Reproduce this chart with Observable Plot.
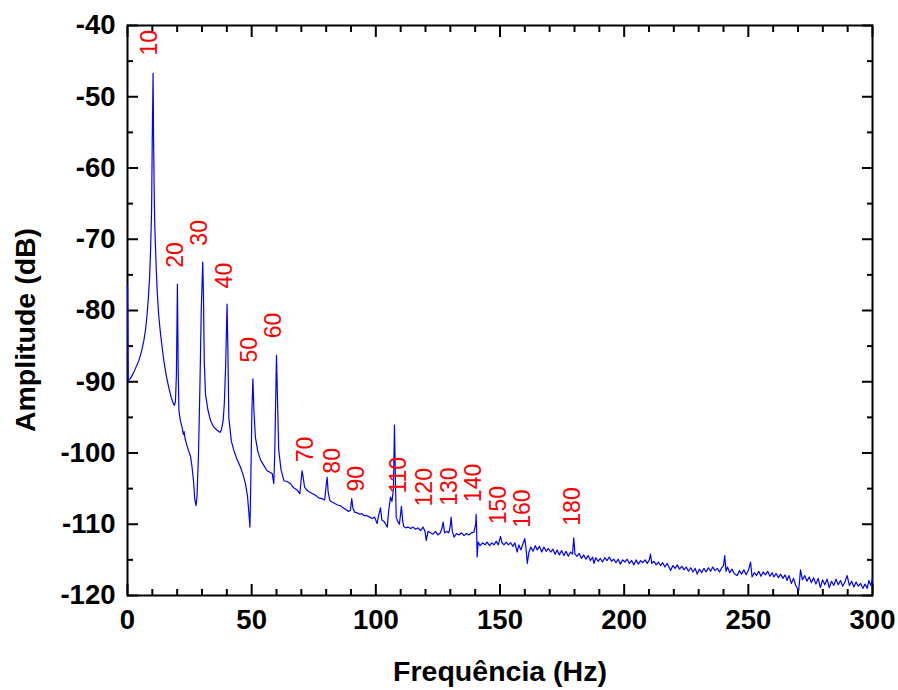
<!DOCTYPE html>
<html><head><meta charset="utf-8">
<script src="https://cdn.jsdelivr.net/npm/d3@7"></script>
<script src="https://cdn.jsdelivr.net/npm/@observablehq/plot@0.6"></script>
<style>body{margin:0;background:#fff}</style>
</head><body><div id="chart"></div>
<script>
const freq = [
0,0.3,1,1.9,3,4.6,5.6,6.6,7.3,7.9,
8.4,8.9,9.3,9.7,10,10.3,10.5,10.8,11,11.5,
12,12.6,13.3,14,14.6,15.6,16.6,17.6,18.5,18.9,
19.3,19.7,20.1,20.4,20.7,21.3,22,22.5,22.8,23.2,
24,24.7,25.4,26,26.6,27.1,27.6,28,28.6,29.2,
29.7,30.3,30.6,30.9,31.4,32.4,33.4,34.6,36.1,37.2,
37.8,38.5,39,39.5,39.9,40.1,40.4,40.8,41.8,42.8,
44,45.5,46.5,47.5,48.3,48.9,49.3,49.6,50.1,50.5,
50.9,51.5,52.5,53.6,55,56.2,57.4,58.3,58.9,59.3,
59.8,60,60.3,60.9,61.8,63,64.3,65.6,67,68.3,
69.4,70,70.3,70.7,71.3,72.5,74,75.5,77,78.3,
79.4,80,80.4,80.8,81.5,82.5,83.5,84.6,85.8,86.8,
87.8,89,89.8,90.3,90.8,91.5,92.5,93.5,94.4,95.3,
96.5,97.5,98.5,99.5,100.5,101.3,101.9,102.4,103.3,104,
104.6,105.2,105.9,106.5,107.1,107.5,107.9,108.2,108.8,109.5,
110.3,110.8,111.2,112,113,114,115,116,117,118,
119,119.8,120.3,121,122,123,124,125,126,126.6,
127.1,127.7,128.5,129.4,130,130.3,130.8,131.5,132.5,133.5,
134.5,135.5,136.5,137.5,138.5,139.5,140.2,140.4,140.6,140.8,
141.2,142,143,144,144.8,145.8,146.7,147.6,148.5,149.3,
150.2,150.8,151.6,152.5,153.4,154.3,155.2,156,156.9,157.6,
158.4,159.3,160,160.5,161,161.6,162.4,163.3,164.2,165,
165.9,166.8,167.7,168.6,169.5,170.4,171.3,172.2,173,173.9,
174.8,175.7,176.6,177.5,178.4,179.2,179.7,180.2,181,181.9,
182.8,183.7,184.6,185.5,186.4,187.3,187.8,188.6,189.5,190.4,
191.3,192.2,193.1,194,194.9,195.8,196.7,197.6,198.5,199.4,
200.3,201.2,202.1,203,203.9,204.8,205.7,206.6,207.5,208.4,
209.3,210.2,210.6,211.1,212,212.9,213.8,214.6,215.5,216.4,
217.3,218.2,218.7,219.6,220.5,221.4,222.3,223.2,224.1,225,
225.9,226.8,227.7,228.6,229.4,230.3,231.2,232.1,233,233.9,
234.8,235.7,236.6,237.5,238.4,239.3,240,240.5,241,241.6,
242.5,243.4,244.3,245.5,246.4,247.3,248.2,249.1,250,250.9,
251.5,252.4,253.3,254.2,255.1,256,256.9,257.8,258.7,259.6,
260.3,261.2,262.1,263,263.9,264.8,265.6,266.4,267.3,268.2,
269.1,270.3,271,271.8,272.7,273.6,274.5,275.4,276.3,277.2,
278.1,279,279.9,280.8,281.7,282.6,283.5,284.4,285.3,286.2,
287.1,288,288.9,289.8,290.7,291.6,292.5,293.4,294.3,295.2,
296.1,297,297.9,298.5,299.4,300
];
const amp = [
-76.5,-89.8,-89.6,-89.1,-88.3,-87,-85.8,-84.2,-82.6,-80.5,
-78.3,-75.3,-71.5,-66,-55,-46.7,-56,-64.5,-68.3,-73.5,
-77.6,-80.8,-83.3,-85.3,-87,-89.1,-90.8,-92.2,-93.1,-93.3,
-92.8,-89,-76.3,-88,-94,-95.5,-96.4,-97.4,-97,-98,
-99,-99.8,-100.5,-102,-104,-106.5,-107.4,-106,-100,-90,
-80,-73.2,-78,-87,-91.7,-94,-95.4,-96.3,-96.8,-97.1,
-96.8,-95.5,-93,-88,-82,-79.1,-85,-95,-98.3,-99.6,
-100.8,-102,-103,-104.3,-106,-108.5,-110.4,-105,-94,-89.6,
-94,-97.8,-99.8,-101,-101.8,-102.5,-102.7,-102.9,-104.3,-100,
-90,-86.3,-91,-99.6,-102.3,-103.9,-104,-104.3,-104.9,-105.2,
-105.7,-103.5,-102.5,-103.3,-104.8,-105.3,-105.6,-105.9,-106.3,-106.4,
-106.6,-104.5,-103.4,-105.5,-106.7,-106.9,-107.1,-107.3,-107.4,-107.7,
-107.9,-108.2,-108,-106.4,-107.8,-108.3,-108.4,-108.6,-108.5,-108.8,
-108.8,-109,-109.2,-109,-109.9,-108.5,-107.7,-109.4,-109.6,-110,
-110.4,-108,-106.2,-106.8,-105,-96.1,-104,-109,-109.6,-110,
-107.5,-109.5,-110.3,-110.5,-110.4,-110.6,-110.4,-110.7,-110.5,-110.9,
-110.4,-111,-112.3,-111,-111.2,-111.4,-111,-111.5,-111.2,-110.6,
-109.7,-111.2,-111,-111.2,-110.2,-109,-111,-111.8,-111.3,-111.5,
-111.2,-111.6,-111.3,-111.5,-111.2,-111.1,-110,-108.6,-111,-114.6,
-112.5,-113,-112.6,-112.9,-112.5,-113,-112.6,-112.9,-112.4,-112.9,
-111.7,-112.6,-112.9,-112.5,-112.9,-112.6,-113.1,-112.6,-113.9,-112.9,
-113.6,-112.7,-112,-113.5,-115.5,-114,-113.2,-113.8,-113,-113.6,
-113.1,-113.9,-113.2,-113.8,-113.4,-113.9,-113.5,-114.2,-113.6,-114.3,
-113.7,-114.4,-113.8,-114.5,-113.9,-114.2,-111.9,-114.2,-114.5,-114.1,
-114.8,-114.3,-114.9,-114.4,-115.1,-114.6,-115.5,-114.7,-115.2,-114.8,
-115.3,-114.7,-115.1,-114.6,-115.2,-114.9,-115.4,-114.9,-115.6,-115,
-115.3,-114.9,-115.5,-115.1,-115.7,-115,-115.6,-115.1,-115.4,-115,
-115.5,-114.9,-114.2,-115.5,-115.2,-115.7,-115.3,-115.8,-115.4,-116,
-115.5,-116.1,-116.5,-115.8,-116.2,-115.7,-116.3,-115.9,-116.4,-116,
-116.6,-116.1,-116.7,-116.2,-117,-116.3,-116.8,-116.2,-116.7,-116.1,
-116.6,-116,-116.5,-116.2,-116.7,-116.1,-115.8,-114.4,-116.6,-116,
-116.8,-116.3,-116.9,-117.2,-116.5,-117,-116.4,-117.1,-116.5,-115.3,
-117.4,-116.8,-117.2,-116.6,-117.3,-116.7,-117.1,-116.6,-117.3,-116.8,
-117.4,-116.9,-117.5,-117,-117.6,-117.1,-117.9,-117.2,-118.3,-117.6,
-118.6,-119.3,-116.4,-117.8,-117.2,-118,-117.4,-118.2,-117.5,-118.4,
-117.6,-118.9,-117.8,-118.5,-117.7,-118.9,-118,-118.6,-117.7,-118.5,
-117.9,-118.7,-118.1,-117.2,-118.6,-118,-118.8,-118.1,-118.7,-118.3,
-119,-118.4,-119,-117.9,-118.6,-117.5
];
const peakLabels = ["10","20","30","40","50","60","70","80","90","110","120","130","140","150","160","180"];
const labelFreq = [8.9,19.3,29,39,49.2,59,71.7,82.4,92.3,109.3,119.6,129.7,139.3,149.4,159.3,179.2];
const labelAmp = [-44.2,-74,-70.9,-76.9,-87.3,-83.9,-101.3,-102.9,-105.4,-105.7,-107.5,-107.4,-106.9,-110,-110.5,-110.2];
const xMajor = [0,50,100,150,200,250,300];
const xMinor = [10,20,30,40,60,70,80,90,110,120,130,140,160,170,180,190,210,220,230,240,260,270,280,290];
const yMajor = [-120,-110,-100,-90,-80,-70,-60,-50,-40];
const yMinor = [-115,-105,-95,-85,-75,-65,-55,-45];
const xTitle = "Frequência (Hz)";
const yTitle = "Amplitude (dB)";

const data = freq.map((f, i) => ({f, a: amp[i]}));
const labels = peakLabels.map((t, i) => ({t, x: labelFreq[i], y: labelAmp[i]}));
const font = "'Liberation Sans', Arial, Helvetica, sans-serif";
const blank = () => "";

const chart = Plot.plot({
  width: 898, height: 690,
  marginLeft: 127, marginRight: 26, marginTop: 25, marginBottom: 95,
  style: {fontFamily: font, background: "#fff", color: "#000", overflow: "visible"},
  x: {domain: [0, 300]},
  y: {domain: [-120, -40]},
  marks: [
    Plot.frame({stroke: "#000", strokeWidth: 2}),
    // inward ticks, bottom
    Plot.axisX(xMajor, {anchor: "bottom", tickSize: 11, dy: -11, tickFormat: blank, label: null, strokeWidth: 2}),
    Plot.axisX(xMinor, {anchor: "bottom", tickSize: 6, dy: -6, tickFormat: blank, label: null, strokeWidth: 2}),
    // top
    Plot.axisX(xMajor, {anchor: "top", tickSize: 11, dy: 11, tickFormat: blank, label: null, strokeWidth: 2}),
    Plot.axisX(xMinor, {anchor: "top", tickSize: 6, dy: 6, tickFormat: blank, label: null, strokeWidth: 2}),
    // left
    Plot.axisY(yMajor, {anchor: "left", tickSize: 11, dx: 11, tickFormat: blank, label: null, strokeWidth: 2}),
    Plot.axisY(yMinor, {anchor: "left", tickSize: 6, dx: 6, tickFormat: blank, label: null, strokeWidth: 2}),
    // right
    Plot.axisY(yMajor, {anchor: "right", tickSize: 11, dx: -11, tickFormat: blank, label: null, strokeWidth: 2}),
    Plot.axisY(yMinor, {anchor: "right", tickSize: 6, dx: -6, tickFormat: blank, label: null, strokeWidth: 2}),
    Plot.line(data, {x: "f", y: "a", stroke: "#0000ff", strokeWidth: 1.2}),
    Plot.text(labels, {x: "x", y: "y", text: "t", rotate: -90, textAnchor: "start", fill: "#ff0000", fontSize: 23}),
    // tick labels
    Plot.axisX(xMajor, {anchor: "bottom", tickSize: 0, tickPadding: 14, fontSize: 27.5, fontWeight: "bold", label: null, tickFormat: d => String(d)}),
    Plot.axisY(yMajor, {anchor: "left", tickSize: 0, tickPadding: 12, fontSize: 27.5, fontWeight: "bold", label: null, tickFormat: d => String(d)}),
    // axis titles
    Plot.text([xTitle], {text: d => d, frameAnchor: "bottom", textAnchor: "middle", dy: 85, lineAnchor: "bottom", fontSize: 28.5, fontWeight: "bold"}),
    Plot.text([yTitle], {text: d => d, frameAnchor: "left", textAnchor: "middle", lineAnchor: "middle", rotate: -90, dx: -102, dy: 19.5, fontSize: 28.5, fontWeight: "bold"})
  ]
});
document.getElementById("chart").appendChild(chart);
</script>
</body></html>
